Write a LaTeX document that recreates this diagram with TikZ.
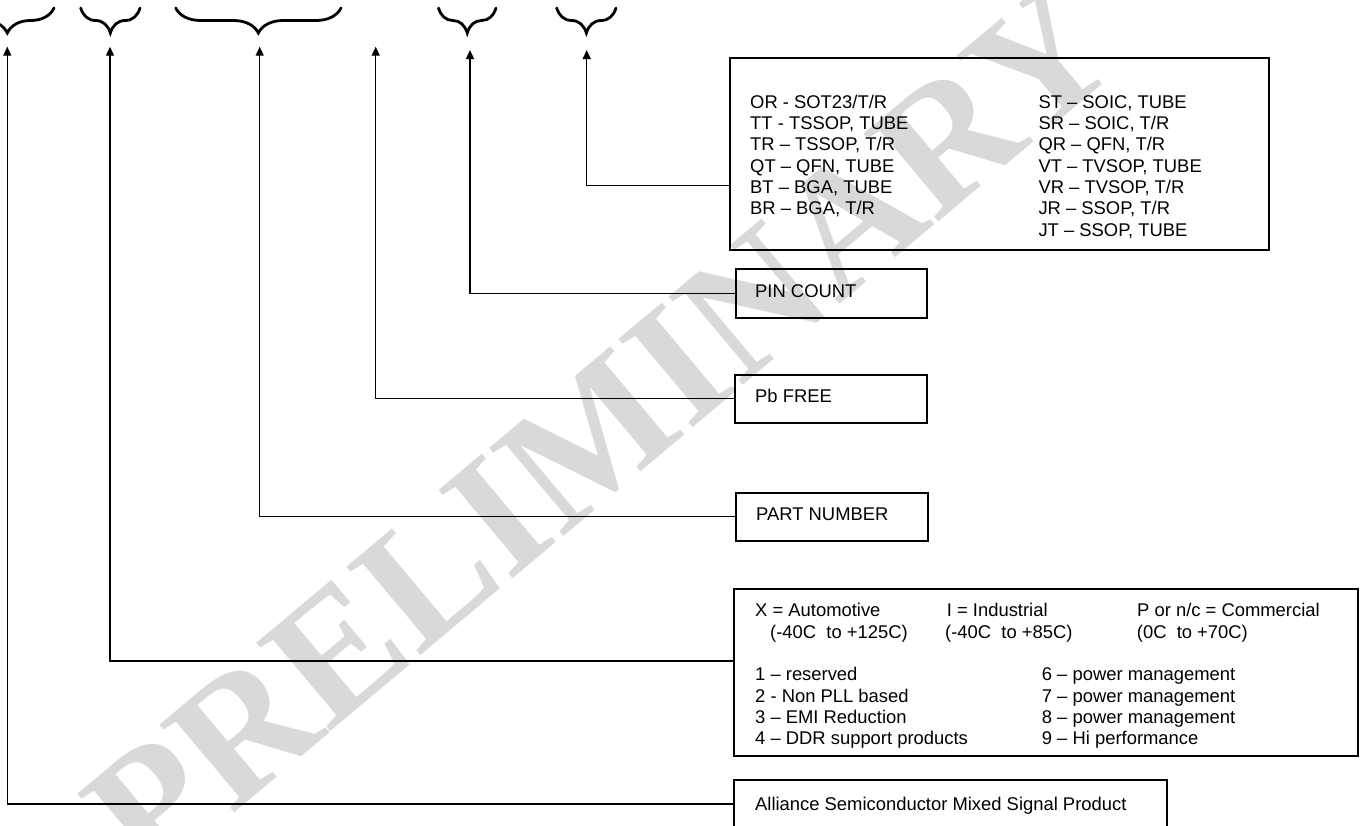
\documentclass[tikz,border=0pt]{standalone}
\usepackage{fontspec}
\setmainfont{Liberation Sans}
\newfontfamily\wmfont{Liberation Serif}
\usetikzlibrary{arrows.meta,decorations.pathreplacing,calc}
\begin{document}
\begin{tikzpicture}[x=1pt,y=-1pt,
  boxnode/.style={draw=black,line width=1.8pt,inner sep=0pt,anchor=north west},
  txt/.style={anchor=base west,inner sep=0pt,font=\fontsize{18.4}{21.3}\selectfont},
  conn/.style={line width=1.3pt,-{Triangle[length=9pt,width=8pt]}},
  bracestyle/.style={line width=2.8pt,line cap=round,decorate,decoration={brace,mirror,amplitude=25pt}},
  wm/.style={rotate=40,text=black!15,inner sep=0pt,font=\wmfont\bfseries\fontsize{176}{176}\selectfont}]
\useasboundingbox (0,0) rectangle (1365,825);
% watermark
\node[wm] (wm) at (600,430) {PRELIMINARY};
% braces
\coordinate (b1l) at (-39.4,8); \coordinate (b1r) at (54,8);
\coordinate (b2l) at (80.7,8); \coordinate (b2r) at (140,8);
\coordinate (b3l) at (175.7,8); \coordinate (b3r) at (341,8);
\coordinate (b4l) at (438.5,8); \coordinate (b4r) at (496,8);
\coordinate (b5l) at (556.7,8); \coordinate (b5r) at (616,8);
\draw[bracestyle] (b1l) -- (b1r);
\draw[bracestyle] (b2l) -- (b2r);
\draw[bracestyle] (b3l) -- (b3r);
\draw[bracestyle] (b4l) -- (b4r);
\draw[bracestyle] (b5l) -- (b5r);
% arrow tips
\coordinate (a1) at (7.3,46.7);
\coordinate (a2) at (110,46.7);
\coordinate (a3) at (259.7,46.7);
\coordinate (a4) at (375.7,46.7);
\coordinate (a5) at (470,50);
\coordinate (a6) at (586.7,50);
% boxes
\node[boxnode,minimum width=539pt,minimum height=192pt] (pkg) at (729.3,57.3) {};
\node[boxnode,minimum width=191.3pt,minimum height=48.4pt] (pin) at (734.7,268.3) {};
\node[boxnode,minimum width=191.7pt,minimum height=48pt] (pb) at (734.3,373.7) {};
\node[boxnode,minimum width=191.7pt,minimum height=48.3pt] (part) at (735,491.7) {};
\node[boxnode,minimum width=623.4pt,minimum height=166.7pt] (temp) at (733.3,588.3) {};
\node[boxnode,minimum width=432.4pt,minimum height=70pt] (alli) at (733.3,779.3) {};
% package texts
\foreach \t [count=\i from 0] in {{OR - SOT23/T/R},{TT - TSSOP, TUBE},{TR – TSSOP, T/R},{QT – QFN, TUBE},{BT – BGA, TUBE},{BR – BGA, T/R}}
  \node[txt] (pl\i) at (750,108.3+21.3*\i) {\t};
\foreach \t [count=\i from 0] in {{ST – SOIC, TUBE},{SR – SOIC, T/R},{QR – QFN, T/R},{VT – TVSOP, TUBE},{VR – TVSOP, T/R},{JR – SSOP, T/R},{JT – SSOP, TUBE}}
  \node[txt] (pr\i) at (1038.3,108.3+21.3*\i) {\t};
% single texts
\node[txt] (pint) at (755,297.3) {PIN COUNT};
\node[txt] (pbt) at (755,402.6) {Pb FREE};
\node[txt] (partt) at (756,520) {PART NUMBER};
\node[txt] (allit) at (755,810) {Alliance Semiconductor Mixed Signal Product};
% temperature / family texts
\begin{scope}
\clip (733.3,588.3) rectangle (1356.7,747.8);
\node[txt] (tx) at (755,616.8) {X = Automotive};
\node[txt] (ti) at (946.7,616.8) {I = Industrial};
\node[txt] (tp) at (1137,616.8) {P or n/c = Commercial};
\node[txt] (rx) at (770,638) {(-40C\ \ to +125C)};
\node[txt] (ri) at (945,638) {(-40C\ \ to +85C)};
\node[txt] (rp) at (1136.7,638) {(0C\ \ to +70C)};
\foreach \t [count=\i from 0] in {{1 – reserved},{2 - Non PLL based},{3 – EMI Reduction},{4 – DDR support products}}
  \node[txt] (fl\i) at (755,680.6+21.4*\i) {\t};
\foreach \t [count=\i from 0] in {{6 – power management},{7 – power management},{8 – power management},{9 – Hi performance}}
  \node[txt] (fr\i) at (1041.7,680.6+21.4*\i) {\t};
\end{scope}
% connectors
\draw[conn] ($(pkg.north west)+(0,128.4)$) -| (a6);
\draw[conn] (pin.west) -| (a5);
\draw[conn] (pb.west) -| (a4);
\draw[conn] (part.west) -| (a3);
\draw[conn] ($(temp.north west)+(0,72.7)$) -| (a2);
\draw[conn] ($(alli.north west)+(0,24.7)$) -| (a1);
\end{tikzpicture}
\end{document}
